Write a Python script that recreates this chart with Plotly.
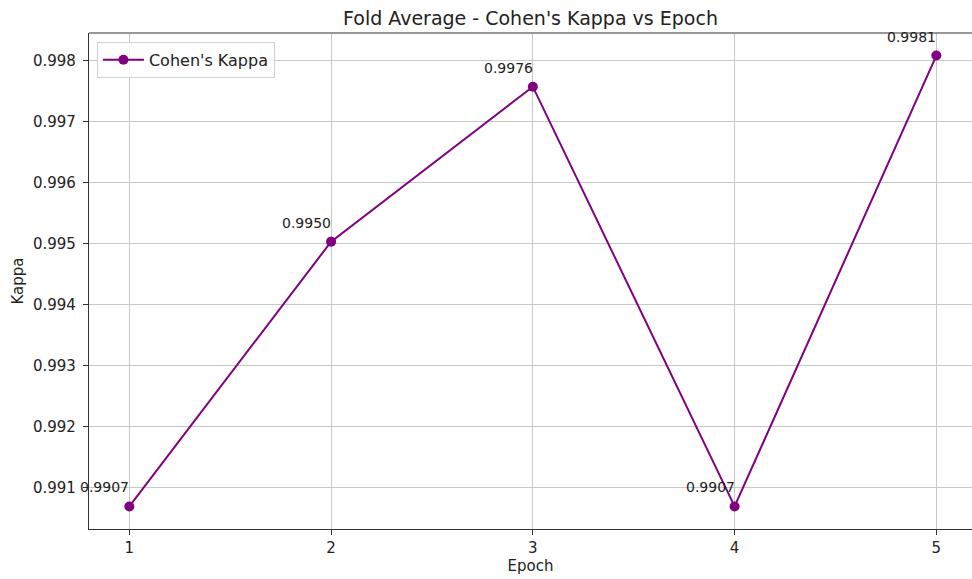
import plotly.graph_objects as go

epochs = [1, 2, 3, 4, 5]
kappa = [0.99069, 0.99503, 0.99757, 0.99069, 0.99808]
labels = [f"{v:.4f}" for v in kappa]
ytick_vals = [0.991, 0.992, 0.993, 0.994, 0.995, 0.996, 0.997, 0.998]

font_family = "DejaVu Sans"
text_color = "#222222"
spine_color = "#333333"
grid_color = "#c8c8c8"

fig = go.Figure()
fig.add_trace(go.Scatter(
    x=epochs, y=kappa, mode="lines+markers", name="Cohen's Kappa",
    line=dict(color="purple", width=2),
    marker=dict(color="purple", size=10),
    cliponaxis=False,
))

for x, y, t in zip(epochs, kappa, labels):
    fig.add_annotation(x=x, y=y, text=t, showarrow=False, xanchor="right",
                       yanchor="bottom", yshift=9, xshift=2,
                       font=dict(family=font_family, size=14, color=text_color))

fig.add_shape(type="line", xref="paper", yref="paper", x0=0, x1=1, y0=1, y1=1,
              line=dict(color=spine_color, width=1.2))

fig.update_layout(
    width=972, height=579,
    margin=dict(l=89, r=0, t=33, b=50),
    paper_bgcolor="white", plot_bgcolor="white",
    font=dict(family=font_family, color=text_color, size=15),
    title=dict(text="Fold Average - Cohen's Kappa vs Epoch", x=0.5, xanchor="center",
               xref="paper", y=0.968, yanchor="middle",
               font=dict(size=19, family=font_family, color=text_color)),
    showlegend=True,
    legend=dict(x=0.009, y=0.982, xanchor="left", yanchor="top", itemwidth=41,
                bgcolor="rgba(255,255,255,0.8)", bordercolor="#d0d0d0", borderwidth=1,
                font=dict(size=16, family=font_family, color=text_color)),
    xaxis=dict(range=[0.8, 5.1767], tickvals=epochs, ticktext=[str(e) for e in epochs],
               showgrid=True, gridcolor=grid_color, gridwidth=1,
               showline=True, linecolor=spine_color, linewidth=1.2,
               ticks="outside", ticklen=5, tickcolor=spine_color, zeroline=False,
               title=dict(text="Epoch", standoff=4, font=dict(size=15)),
               tickfont=dict(size=15)),
    yaxis=dict(range=[0.99032, 0.99845], tickvals=ytick_vals,
               ticktext=[f"{v:.3f}" for v in ytick_vals],
               showgrid=True, gridcolor=grid_color, gridwidth=1,
               showline=True, linecolor=spine_color, linewidth=1.2,
               ticks="outside", ticklen=5, tickcolor=spine_color, zeroline=False,
               ticklabelstandoff=4,
               title=dict(text="Kappa", standoff=5, font=dict(size=15)),
               tickfont=dict(size=15)),
)

fig.write_html("out.html", config={"displayModeBar": False},
               post_script="document.body.style.margin='0';document.body.style.overflow='hidden';")
